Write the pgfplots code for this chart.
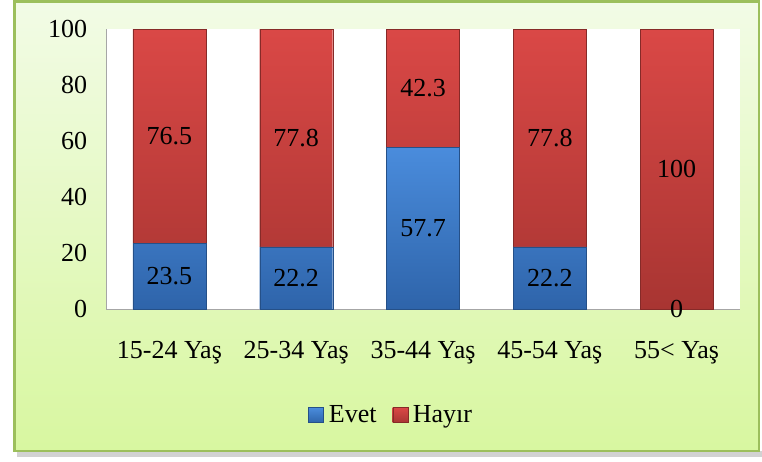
\documentclass[border=0pt]{standalone}
\usepackage{fontspec}
\setmainfont{Liberation Serif}
\usepackage{pgfplots}
\pgfplotsset{compat=1.18}
\definecolor{bgtop}{HTML}{F2FBE6}
\definecolor{bgbot}{HTML}{D8F7A0}
\definecolor{bordergreen}{HTML}{9CBF5C}
\definecolor{evtop}{HTML}{4A8CDC}
\definecolor{evbot}{HTML}{2E64AA}
\definecolor{hatop}{HTML}{DA4846}
\definecolor{habot}{HTML}{A83532}
\newcommand{\bigfont}{\fontsize{26}{30}\selectfont}
\begin{document}
\begin{tikzpicture}
\useasboundingbox (0pt,0pt) rectangle (762pt,461pt);
\fill[gray!35] (17pt,4pt) rectangle (762pt,10pt);
\shade[top color=bgtop, bottom color=bgbot, draw=bordergreen, line width=2.5pt] (14.5pt,10pt) rectangle (759pt,459.7pt);
\begin{axis}[
  at={(106pt,152pt)}, anchor=south west,
  scale only axis, width=634pt, height=280pt,
  xmin=-0.5, xmax=4.5, ymin=0, ymax=100,
  ybar stacked, bar width=73pt,
  axis background/.style={fill=white},
  axis x line*=bottom, axis y line*=left,
  axis line style={draw=gray!70, -},
  major tick length=0pt,
  xtick={0,1,2,3,4},
  xticklabels={15-24 Yaş, 25-34 Yaş, 35-44 Yaş, 45-54 Yaş, 55< Yaş},
  ytick={0,20,40,60,80,100},
  /pgf/number format/assume math mode=true,
  yticklabel style={font=\bigfont, xshift=-15.3pt},
  xticklabel style={font=\bigfont, anchor=base, yshift=-49pt},
  legend style={at={(0.45,-0.379)}, anchor=center, draw=none, fill=none,
    font=\bigfont, legend columns=-1,
    /tikz/every odd column/.append style={column sep=3pt},
    /tikz/every even column/.append style={column sep=14pt}},
  legend image code/.code={\path[#1] (0pt,-7.5pt) rectangle (15pt,7.5pt);},
]
\addplot[top color=evtop, bottom color=evbot, draw=evbot!80!black, line width=0.4pt]
  coordinates {(0,23.5) (1,22.2) (2,57.7) (3,22.2) (4,0)};
\addlegendentry{Evet}
\addplot[top color=hatop, bottom color=habot, draw=habot!80!black, line width=0.4pt]
  coordinates {(0,76.5) (1,77.8) (2,42.3) (3,77.8) (4,100)};
\addlegendentry{Hayır}
\end{axis}
\begin{axis}[
  at={(106pt,152pt)}, anchor=south west,
  scale only axis, width=634pt, height=280pt,
  xmin=-0.5, xmax=4.5, ymin=0, ymax=100,
  hide axis, clip=false,
]
\addplot[draw=none, mark=none, nodes near coords, point meta=explicit symbolic,
  nodes near coords style={anchor=center, font=\bigfont, text=black}]
  coordinates {(0,11.75)[23.5] (1,11.1)[22.2] (2,28.85)[57.7] (3,11.1)[22.2] (4,0)[0]};
\addplot[draw=none, mark=none, nodes near coords, point meta=explicit symbolic,
  nodes near coords style={anchor=center, font=\bigfont, text=black}]
  coordinates {(0,61.75)[76.5] (1,61.1)[77.8] (2,78.85)[42.3] (3,61.1)[77.8] (4,50)[100]};
\end{axis}
\end{tikzpicture}
\end{document}
